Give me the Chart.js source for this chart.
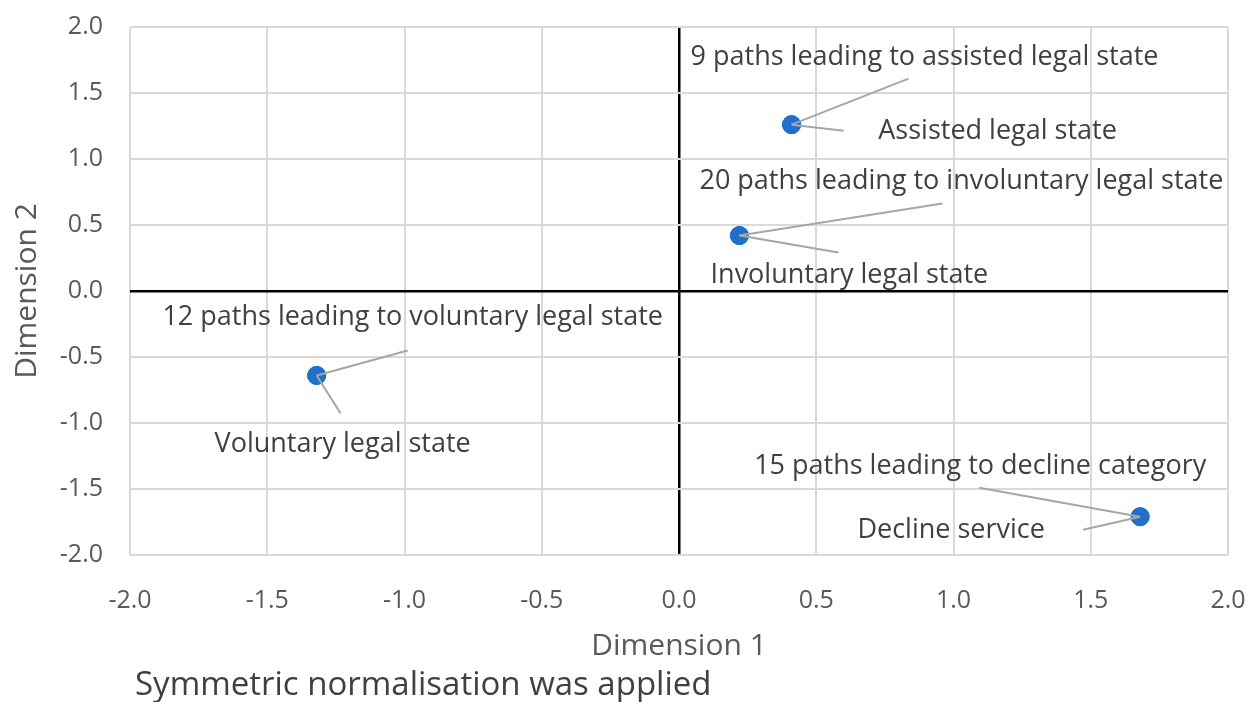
<!DOCTYPE html>
<html>
<head>
<meta charset="utf-8">
<script src="https://cdn.jsdelivr.net/npm/chart.js@4.4.1/dist/chart.umd.min.js"></script>
<style>
  html, body { margin:0; padding:0; background:#fff; }
  #wrap { width:1249px; height:702px; position:relative; }
</style>
</head>
<body>
<div id="wrap"><canvas id="cnv"></canvas></div>
<script>
"use strict";

// Correspondence analysis coordinates
const pathLabels  = ['9 paths leading to assisted legal state', '20 paths leading to involuntary legal state',
                     '12 paths leading to voluntary legal state', '15 paths leading to decline category'];
const stateLabels = ['Assisted legal state', 'Involuntary legal state', 'Voluntary legal state', 'Decline service'];
const dim1 = [0.41, 0.22, -1.32, 1.68];
const dim2 = [1.26, 0.42, -0.64, -1.71];
const axisMin = -2, axisMax = 2, axisStep = 0.5;
const xTitle = 'Dimension 1';
const yTitle = 'Dimension 2';
const footNote = 'Symmetric normalisation was applied';

// label placement, pixel offsets from the point: [labelDx, labelDy, lineDx, lineDy]
const pathOffsets  = [[133,-67,117,-46], [222,-54,203,-32], [96,-58,91,-25], [-160,-50,-161,-29]];
const stateOffsets = [[206,7,52,6], [110,40,99,17], [26,69,24,38], [-189,14,-57,13]];

const FONT = '"Open Sans", "Noto Sans", sans-serif';
const BLUE = '#1f6fcb';
const GRID = '#d9d9d9';

const pts = dim1.map((x, i) => ({ x, y: dim2[i] }));

const labelPlugin = {
  id: 'labels',
  afterDatasetsDraw(chart) {
    const { ctx, scales } = chart;
    function put(text, i, off) {
      const px = scales.x.getPixelForValue(dim1[i]);
      const py = scales.y.getPixelForValue(dim2[i]);
      ctx.save();
      ctx.strokeStyle = '#a6a6a6';
      ctx.lineWidth = 2;
      ctx.beginPath(); ctx.moveTo(px, py); ctx.lineTo(px + off[2], py + off[3]); ctx.stroke();
      ctx.font = `27px ${FONT}`;
      ctx.fillStyle = '#404040';
      ctx.textAlign = 'center';
      ctx.textBaseline = 'middle';
      ctx.fillText(text, px + off[0], py + off[1]);
      ctx.restore();
    }
    pathLabels.forEach((t, i) => put(t, i, pathOffsets[i]));
    stateLabels.forEach((t, i) => put(t, i, stateOffsets[i]));
  },
  afterDraw(chart) {
    const { ctx } = chart;
    ctx.save();
    ctx.font = `33px ${FONT}`;
    ctx.fillStyle = '#404040';
    ctx.textAlign = 'left';
    ctx.textBaseline = 'middle';
    ctx.fillText(footNote, 135, 686);
    ctx.restore();
  }
};

const gridColor = c => (c.tick && c.tick.value === 0) ? '#000000' : GRID;
const gridWidth = c => (c.tick && c.tick.value === 0) ? 2.5 : 2;

new Chart(document.getElementById('cnv'), {
  type: 'scatter',
  data: {
    datasets: [
      { label: 'Paths', data: pts, backgroundColor: BLUE, borderColor: BLUE, pointRadius: 9, pointHoverRadius: 9 },
      { label: 'States', data: pts, backgroundColor: BLUE, borderColor: BLUE, pointRadius: 9, pointHoverRadius: 9 }
    ]
  },
  options: {
    responsive: true,
    maintainAspectRatio: false,
    animation: false,
    layout: { padding: { left: 0, right: 21, top: 27, bottom: 0 } },
    plugins: { legend: { display: false }, tooltip: { enabled: false } },
    scales: {
      x: {
        type: 'linear', min: axisMin, max: axisMax,
        ticks: { stepSize: axisStep, color: '#595959', padding: 31, font: { family: FONT, size: 25 },
                 callback: v => v.toFixed(1) },
        grid: { color: gridColor, lineWidth: gridWidth, drawTicks: false },
        border: { display: false },
        title: { display: true, text: xTitle, color: '#595959', font: { family: FONT, size: 30 },
                 padding: { top: 0, bottom: 38 } },
        afterFit: s => { s.height = 147; s.paddingLeft = 0; s.paddingRight = 0; }
      },
      y: {
        type: 'linear', min: axisMin, max: axisMax,
        ticks: { stepSize: axisStep, color: '#595959', padding: 27, font: { family: FONT, size: 25 },
                 callback: v => v.toFixed(1) },
        grid: { color: gridColor, lineWidth: gridWidth, drawTicks: false },
        border: { display: false },
        title: { display: true, text: yTitle, color: '#595959', font: { family: FONT, size: 30 },
                 padding: { top: 9, bottom: 0 } },
        afterFit: s => { s.width = 130; s.paddingTop = 0; s.paddingBottom = 0; }
      }
    }
  },
  plugins: [labelPlugin]
});
</script>
</body>
</html>
